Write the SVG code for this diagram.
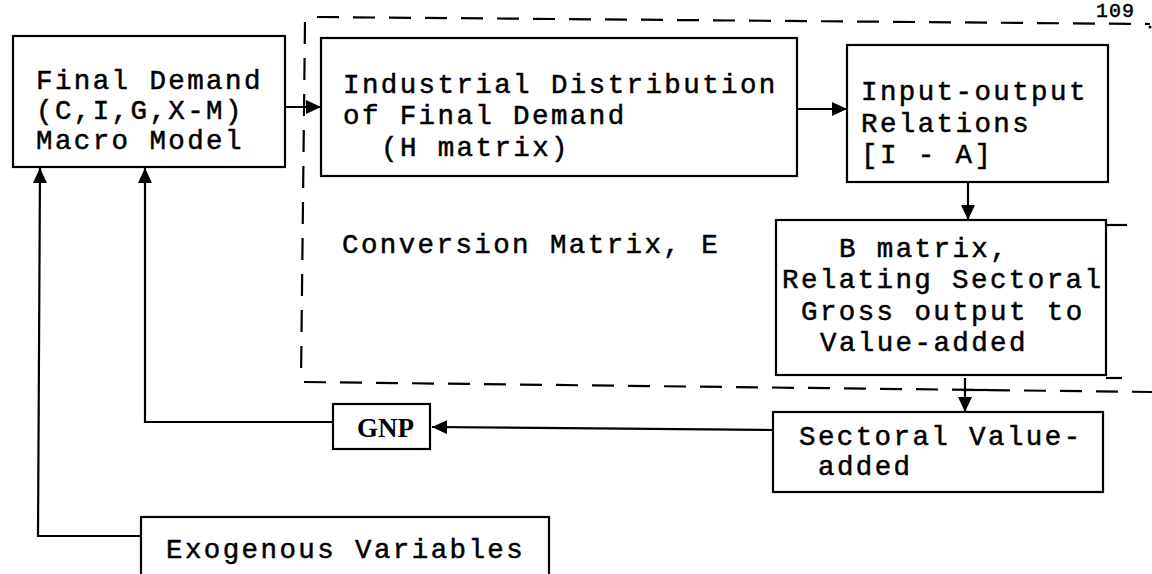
<svg xmlns="http://www.w3.org/2000/svg" width="1152" height="574" viewBox="0 0 1152 574">
  <defs>
    <style>
      .box { fill: none; stroke: #000; stroke-width: 2.2; }
      .t { font-family: "Courier New", "Liberation Mono", monospace; font-size: 27.5px; letter-spacing: 2.4px; fill: #000; stroke: #000; stroke-width: 0.5; }
      .pg { font-size: 20px; letter-spacing: 1px; }
      .g { font-family: "Liberation Serif", serif; font-size: 27px; font-weight: bold; fill: #000; }
      .ln { fill: none; stroke: #000; stroke-width: 2.2; }
      .dash { fill: none; stroke: #000; stroke-width: 2.2; stroke-dasharray: 22 14; }
    </style>
    <marker id="ah" markerUnits="userSpaceOnUse" markerWidth="16" markerHeight="14" refX="15" refY="7" orient="auto">
      <path d="M0,0 L15,7 L0,14 Z" fill="#000"/>
    </marker>
  </defs>
  <rect width="1152" height="574" fill="#fff"/>

  <text class="t pg" x="1096" y="17">109</text>

  <g id="boundary">
    <path class="dash" d="M317 17 L1150 24"/>
    <circle cx="1150" cy="27" r="1.5" fill="#000"/>
    <path class="dash" d="M305 22 L301 380"/>
    <path class="dash" d="M304 382 L1152 392"/>
    <text class="t" x="342" y="253">Conversion Matrix, E</text>
  </g>

  <g id="connectors">
    <path class="ln" d="M285 107 L321 107" marker-end="url(#ah)"/>
    <path class="ln" d="M797 109 L847 109" marker-end="url(#ah)"/>
    <path class="ln" d="M968 182 L968 220" marker-end="url(#ah)"/>
    <path class="ln" d="M965 378 L965 412" marker-end="url(#ah)"/>
    <path class="ln" d="M965 390 L988 390"/>
    <path class="ln" d="M773 430 L432 427" marker-end="url(#ah)"/>
    <path class="ln" d="M333 422 L145 422 L145 168" marker-end="url(#ah)"/>
    <path class="ln" d="M141 536 L38 536 L40 168" marker-end="url(#ah)"/>
  </g>

  <g id="final-demand">
    <rect class="box" x="13" y="36" width="272" height="131"/>
    <text class="t" x="36" y="89">Final Demand</text>
    <text class="t" x="36" y="119">(C,I,G,X-M)</text>
    <text class="t" x="36" y="149">Macro Model</text>
  </g>

  <g id="industrial-distribution">
    <rect class="box" x="321" y="38" width="476" height="138"/>
    <text class="t" x="343" y="93">Industrial Distribution</text>
    <text class="t" x="343" y="124">of Final Demand</text>
    <text class="t" x="381" y="156">(H matrix)</text>
  </g>

  <g id="input-output">
    <rect class="box" x="847" y="45" width="261" height="137"/>
    <text class="t" x="861" y="100">Input-output</text>
    <text class="t" x="861" y="132">Relations</text>
    <text class="t" x="861" y="163">[I - A]</text>
  </g>

  <g id="b-matrix">
    <rect class="box" x="776" y="220" width="330" height="155"/>
    <path class="ln" d="M1106 225 L1127 225"/>
    <path class="ln" d="M1106 378 L1122 378"/>
    <text class="t" x="839" y="257">B matrix,</text>
    <text class="t" x="782" y="288">Relating Sectoral</text>
    <text class="t" x="801" y="320">Gross output to</text>
    <text class="t" x="820" y="351">Value-added</text>
  </g>

  <g id="sectoral-value-added">
    <rect class="box" x="773" y="412" width="330" height="80"/>
    <text class="t" x="799" y="445">Sectoral Value-</text>
    <text class="t" x="818" y="475">added</text>
  </g>

  <g id="gnp">
    <rect class="box" x="333" y="404" width="97" height="45"/>
    <text class="g" x="357" y="437">GNP</text>
  </g>

  <g id="exogenous-variables">
    <rect class="box" x="141" y="517" width="408" height="70"/>
    <text class="t" x="166" y="558">Exogenous Variables</text>
  </g>
</svg>
